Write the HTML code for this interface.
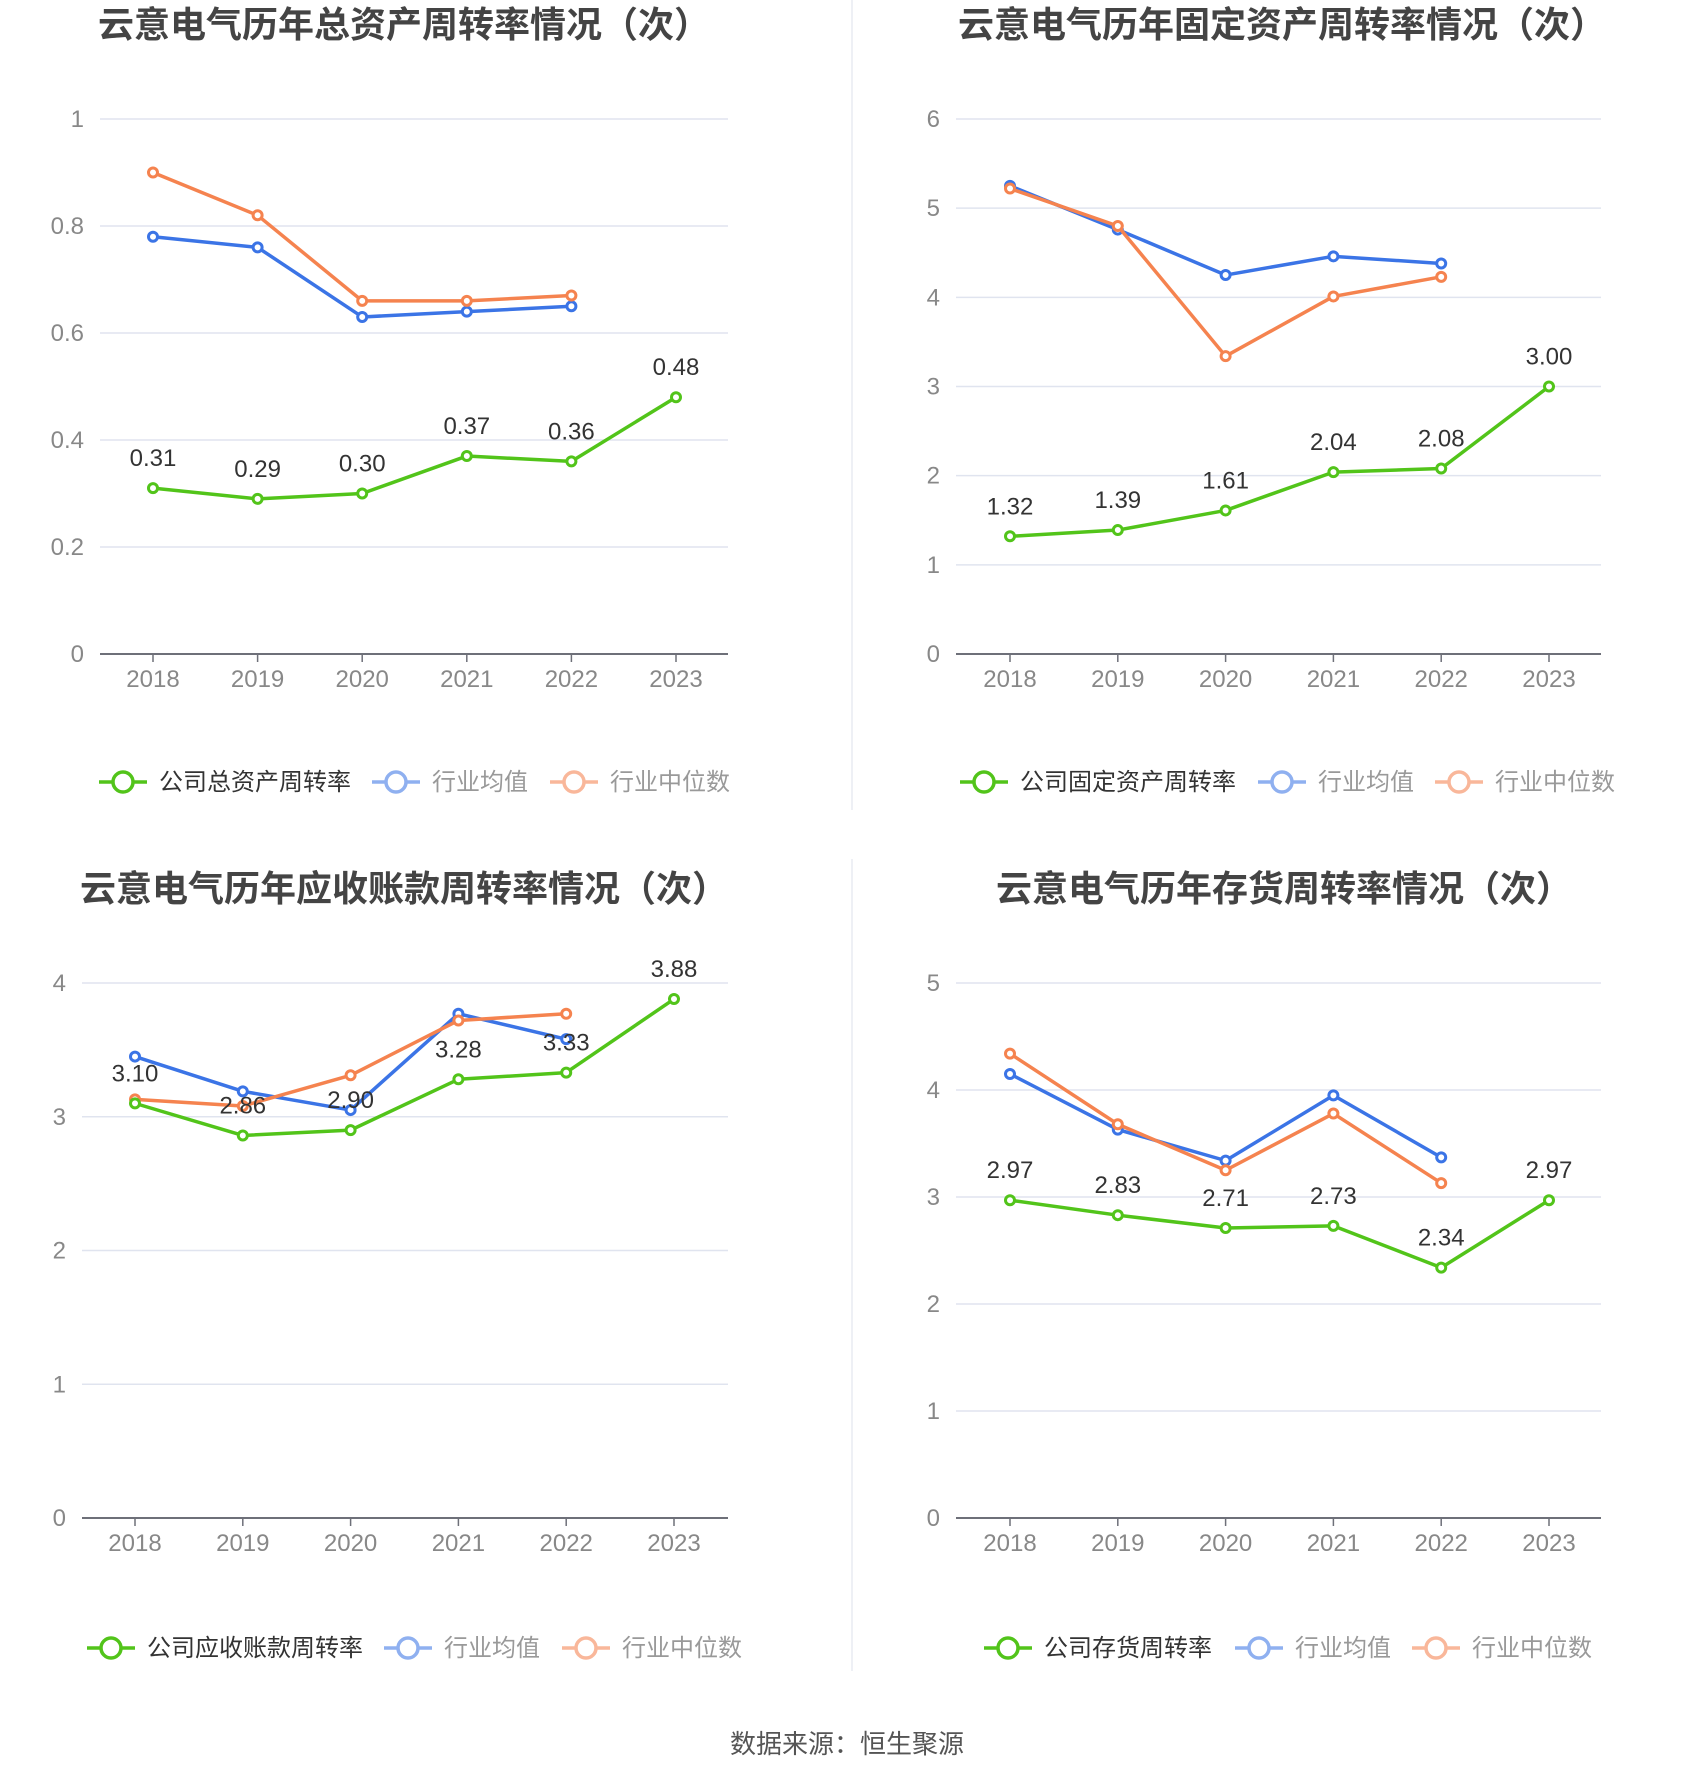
<!DOCTYPE html>
<html><head><meta charset="utf-8">
<style>
html,body{margin:0;padding:0;background:#fff;}
svg{display:block;font-family:"Liberation Sans","Noto Sans CJK SC",sans-serif;}
</style></head>
<body>
<svg id="root" width="1700" height="1782" viewBox="0 0 1700 1782" xmlns="http://www.w3.org/2000/svg">
<line x1="852" y1="0" x2="852" y2="810" stroke="#eef0f5" stroke-width="2"/>
<line x1="852" y1="859" x2="852" y2="1671" stroke="#eef0f5" stroke-width="2"/>
<text x="847" y="1753" text-anchor="middle" font-size="26" fill="#555">数据来源：恒生聚源</text>
</svg>
<script>
const years = ['2018','2019','2020','2021','2022','2023'];
const c1Company = [0.31,0.29,0.30,0.37,0.36,0.48];
const c1Avg = [0.78,0.76,0.63,0.64,0.65];
const c1Median = [0.90,0.82,0.66,0.66,0.67];
const c1Ticks = [0,0.2,0.4,0.6,0.8,1];
const c1TickLabels = ['0','0.2','0.4','0.6','0.8','1'];
const c2Company = [1.32,1.39,1.61,2.04,2.08,3.00];
const c2Avg = [5.25,4.76,4.25,4.46,4.38];
const c2Median = [5.22,4.80,3.34,4.01,4.23];
const c2Ticks = [0,1,2,3,4,5,6];
const c3Company = [3.10,2.86,2.90,3.28,3.33,3.88];
const c3Avg = [3.45,3.19,3.05,3.77,3.58];
const c3Median = [3.13,3.08,3.31,3.72,3.77];
const c3Ticks = [0,1,2,3,4];
const c4Company = [2.97,2.83,2.71,2.73,2.34,2.97];
const c4Avg = [4.15,3.63,3.34,3.95,3.37];
const c4Median = [4.34,3.68,3.25,3.78,3.13];
const c4Ticks = [0,1,2,3,4,5];

const NS='http://www.w3.org/2000/svg';
const root=document.getElementById('root');
const GREEN='#52c41a',BLUE='#3b74e6',ORANGE='#f5834f';
function mk(tag,attrs,parent){const e=document.createElementNS(NS,tag);for(const k in attrs)e.setAttribute(k,attrs[k]);(parent||root).appendChild(e);return e;}

function chart(cfg){
  const g=mk('g',{});
  
  
  const t=mk('text',{x:cfg.titleX,y:cfg.top-82,'text-anchor':'middle','font-size':36,'font-weight':'bold',fill:'#444'},g);
  t.textContent=cfg.title;
  
  
  const maxV=cfg.ticks[cfg.ticks.length-1];
  const y=v=>cfg.bottom-(v/maxV)*(cfg.bottom-cfg.top);
  const x=i=>cfg.x0+i*(cfg.x5-cfg.x0)/5;
  cfg.ticks.forEach((tv,i)=>{
    if(tv!==0){
      const gl=mk('line',{x1:cfg.left,x2:cfg.right,y1:y(tv),y2:y(tv),stroke:'#e0e4ef','stroke-width':1.5},g);
      
      
    }
    const tl=mk('text',{x:cfg.labelX,y:y(tv)+8,'text-anchor':'end','font-size':24,fill:'#888'},g);
    tl.textContent=cfg.tickLabels?cfg.tickLabels[i]:String(tv);
    
    
  });
  const ax=mk('line',{x1:cfg.left,x2:cfg.right,y1:cfg.bottom,y2:cfg.bottom,stroke:'#6e7079','stroke-width':2},g);
  
  
  years.forEach((yr,i)=>{
    const tk=mk('line',{x1:x(i),x2:x(i),y1:cfg.bottom,y2:cfg.bottom+8,stroke:'#6e7079','stroke-width':1.5},g);
    
    
    const tl=mk('text',{x:x(i),y:cfg.bottom+33,'text-anchor':'middle','font-size':24,fill:'#888'},g);
    tl.textContent=yr;
    
    
  });
  function series(vals,color,name,labels){
    const pts=vals.map((v,i)=>x(i)+','+y(v)).join(' ');
    const pl=mk('polyline',{points:pts,fill:'none',stroke:color,'stroke-width':3.5,'stroke-linejoin':'round'},g);
    
    
    vals.forEach((v,i)=>{
      const c=mk('circle',{cx:x(i),cy:y(v),r:4.5,fill:'#fff',stroke:color,'stroke-width':3},g);
      
      
      if(labels){
        const lt=mk('text',{x:x(i),y:y(v)-22,'text-anchor':'middle','font-size':24,fill:'#333'},g);
        lt.textContent=v.toFixed(2);
        
        
      }
    });
  }
  series(cfg.avg,BLUE,'industry-average',false);
  series(cfg.median,ORANGE,'industry-median',false);
  series(cfg.company,GREEN,'company',true);
  const legs=[[cfg.leg[0],GREEN,cfg.legendName,'#333'],[cfg.leg[1],'#8fb0f0','行业均值','#999'],[cfg.leg[2],'#f9b79a','行业中位数','#999']];
  legs.forEach(([lx,col,txt,tc])=>{
    const lg=mk('g',{},g);
    
    
    const ly=cfg.legY;
    mk('line',{x1:lx,x2:lx+48,y1:ly,y2:ly,stroke:col,'stroke-width':3.5},lg);
    mk('circle',{cx:lx+24,cy:ly,r:10,fill:'#fff',stroke:col,'stroke-width':3.5},lg);
    const tt=mk('text',{x:lx+60,y:ly+8,'font-size':24,fill:tc},lg);
    tt.textContent=txt;
  });
}
chart({name:'total-asset-turnover-chart',title:'云意电气历年总资产周转率情况（次）',titleX:404,top:119,bottom:654,left:100,right:728,x0:153,x5:676,labelX:84,ticks:c1Ticks,tickLabels:c1TickLabels,company:c1Company,avg:c1Avg,median:c1Median,legendName:'公司总资产周转率',leg:[99,372,550],legY:782});
chart({name:'fixed-asset-turnover-chart',title:'云意电气历年固定资产周转率情况（次）',titleX:1282,top:119,bottom:654,left:956,right:1601,x0:1010,x5:1549,labelX:940,ticks:c2Ticks,company:c2Company,avg:c2Avg,median:c2Median,legendName:'公司固定资产周转率',leg:[960,1258,1435],legY:782});
chart({name:'receivables-turnover-chart',title:'云意电气历年应收账款周转率情况（次）',titleX:404,top:983,bottom:1518,left:82,right:728,x0:135,x5:674,labelX:66,ticks:c3Ticks,company:c3Company,avg:c3Avg,median:c3Median,legendName:'公司应收账款周转率',leg:[87,384,562],legY:1648});
chart({name:'inventory-turnover-chart',title:'云意电气历年存货周转率情况（次）',titleX:1284,top:983,bottom:1518,left:956,right:1601,x0:1010,x5:1549,labelX:940,ticks:c4Ticks,company:c4Company,avg:c4Avg,median:c4Median,legendName:'公司存货周转率',leg:[984,1235,1412],legY:1648});
</script>
</body></html>
